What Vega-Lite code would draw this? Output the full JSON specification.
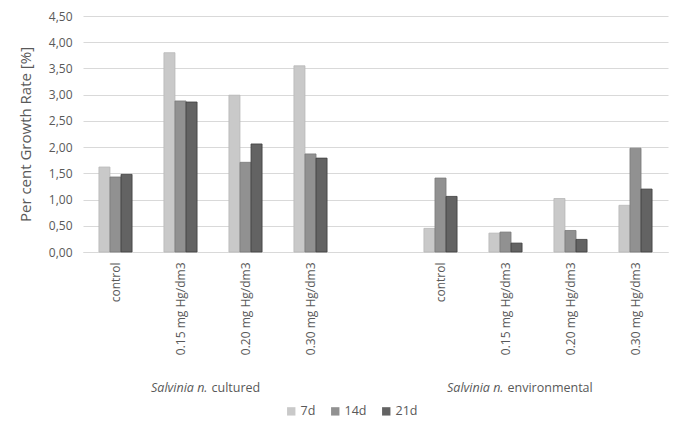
{
  "$schema": "https://vega.github.io/schema/vega-lite/v6.json",
  "width": 585,
  "height": 236,
  "autosize": {"type": "none"},
  "padding": {"left": 83, "top": 16, "right": 17, "bottom": 186},
  "background": "white",
  "config": {
    "font": "Open Sans",
    "view": {"stroke": null},
    "axisX": {
      "labelExpr": "split(datum.value, '|')[1]",
      "labelAngle": -90,
      "labelPadding": 10,
      "labelFontSize": 12,
      "labelColor": "#595959",
      "ticks": false,
      "domainColor": "#d9d9d9",
      "domainWidth": 1,
      "grid": false,
      "title": null
    },
    "axisY": {
      "titleFontSize": 15,
      "titleFontWeight": "normal",
      "titleColor": "#595959",
      "titlePadding": 15,
      "labelFontSize": 12,
      "labelColor": "#595959",
      "labelPadding": 11,
      "ticks": false,
      "domain": false,
      "gridColor": "#d9d9d9",
      "gridWidth": 1
    }
  },
  "datasets": {
    "bars": [
      {"slot": "c|control", "series": "7d", "value": 1.62},
      {"slot": "c|control", "series": "14d", "value": 1.43},
      {"slot": "c|control", "series": "21d", "value": 1.48},
      {"slot": "c|0.15 mg  Hg/dm3", "series": "7d", "value": 3.80},
      {"slot": "c|0.15 mg  Hg/dm3", "series": "14d", "value": 2.88},
      {"slot": "c|0.15 mg  Hg/dm3", "series": "21d", "value": 2.86},
      {"slot": "c|0.20 mg  Hg/dm3", "series": "7d", "value": 2.99},
      {"slot": "c|0.20 mg  Hg/dm3", "series": "14d", "value": 1.71},
      {"slot": "c|0.20 mg  Hg/dm3", "series": "21d", "value": 2.06},
      {"slot": "c|0.30 mg  Hg/dm3", "series": "7d", "value": 3.55},
      {"slot": "c|0.30 mg  Hg/dm3", "series": "14d", "value": 1.87},
      {"slot": "c|0.30 mg  Hg/dm3", "series": "21d", "value": 1.79},
      {"slot": "e|control", "series": "7d", "value": 0.45},
      {"slot": "e|control", "series": "14d", "value": 1.41},
      {"slot": "e|control", "series": "21d", "value": 1.06},
      {"slot": "e|0.15 mg  Hg/dm3", "series": "7d", "value": 0.36},
      {"slot": "e|0.15 mg  Hg/dm3", "series": "14d", "value": 0.38},
      {"slot": "e|0.15 mg  Hg/dm3", "series": "21d", "value": 0.17},
      {"slot": "e|0.20 mg  Hg/dm3", "series": "7d", "value": 1.02},
      {"slot": "e|0.20 mg  Hg/dm3", "series": "14d", "value": 0.41},
      {"slot": "e|0.20 mg  Hg/dm3", "series": "21d", "value": 0.24},
      {"slot": "e|0.30 mg  Hg/dm3", "series": "7d", "value": 0.89},
      {"slot": "e|0.30 mg  Hg/dm3", "series": "14d", "value": 1.98},
      {"slot": "e|0.30 mg  Hg/dm3", "series": "21d", "value": 1.20}
    ],
    "groups": [
      {"slot": "c|0.15 mg  Hg/dm3", "group": "cultured", "italic": "Salvinia n.", "rest": "cultured"},
      {"slot": "e|0.15 mg  Hg/dm3", "group": "environmental", "italic": "Salvinia n.", "rest": "environmental"}
    ]
  },
  "layer": [
    {
      "data": {"name": "bars"},
      "mark": {"type": "bar", "strokeWidth": 0.8},
      "encoding": {
        "x": {
          "field": "slot",
          "type": "nominal",
          "sort": null,
          "title": null,
          "scale": {
            "domain": ["c|control", "c|0.15 mg  Hg/dm3", "c|0.20 mg  Hg/dm3", "c|0.30 mg  Hg/dm3", "gap|", "e|control", "e|0.15 mg  Hg/dm3", "e|0.20 mg  Hg/dm3", "e|0.30 mg  Hg/dm3"],
            "paddingInner": 0.49,
            "paddingOuter": 0.245
          }
        },
        "xOffset": {"field": "series", "type": "nominal", "sort": ["7d", "14d", "21d"], "scale": {"domain": ["7d", "14d", "21d"], "paddingInner": 0, "paddingOuter": 0}},
        "y": {
          "field": "value",
          "type": "quantitative",
          "title": "Per cent Growth Rate [%]",
          "scale": {"domain": [0, 4.5], "nice": false},
          "axis": {
            "values": [0, 0.5, 1, 1.5, 2, 2.5, 3, 3.5, 4, 4.5],
            "labelExpr": "replace(format(datum.value, '.2f'), '.', ',')"
          }
        },
        "color": {
          "field": "series",
          "type": "nominal",
          "sort": ["7d", "14d", "21d"],
          "scale": {"domain": ["7d", "14d", "21d"], "range": ["#c9c9c9", "#919191", "#636363"]},
          "legend": {
            "title": null,
            "orient": "none",
            "legendX": 202,
            "legendY": 389,
            "direction": "horizontal",
            "symbolType": "square",
            "symbolSize": 70,
            "symbolStrokeWidth": 0,
            "labelFontSize": 12.5,
            "labelColor": "#595959",
            "columnPadding": 13,
            "labelOffset": 3
          }
        },
        "stroke": {
          "field": "series",
          "type": "nominal",
          "scale": {"domain": ["7d", "14d", "21d"], "range": ["#b8b8b8", "#7a7a7a", "#3f3f3f"]},
          "legend": null
        }
      }
    },
    {
      "data": {"name": "groups"},
      "transform": [{"filter": "datum.group == 'cultured'"}],
      "mark": {"type": "text", "fontStyle": "italic", "align": "right", "baseline": "middle", "fontSize": 12.5, "color": "#595959", "dx": 27},
      "encoding": {
        "x": {"field": "slot", "type": "nominal", "title": null},
        "y": {"datum": -2.6, "type": "quantitative", "title": "Per cent Growth Rate [%]", "axis": {"values": [0, 0.5, 1, 1.5, 2, 2.5, 3, 3.5, 4, 4.5], "labelExpr": "replace(format(datum.value, '.2f'), '.', ',')"}},
        "text": {"field": "italic"}
      }
    },
    {
      "data": {"name": "groups"},
      "transform": [{"filter": "datum.group == 'cultured'"}],
      "mark": {"type": "text", "align": "left", "baseline": "middle", "fontSize": 12.5, "color": "#595959", "dx": 31},
      "encoding": {
        "x": {"field": "slot", "type": "nominal", "title": null},
        "y": {"datum": -2.6, "type": "quantitative", "title": "Per cent Growth Rate [%]", "axis": {"values": [0, 0.5, 1, 1.5, 2, 2.5, 3, 3.5, 4, 4.5], "labelExpr": "replace(format(datum.value, '.2f'), '.', ',')"}},
        "text": {"field": "rest"}
      }
    },
    {
      "data": {"name": "groups"},
      "transform": [{"filter": "datum.group == 'environmental'"}],
      "mark": {"type": "text", "fontStyle": "italic", "align": "right", "baseline": "middle", "fontSize": 12.5, "color": "#595959", "dx": -2},
      "encoding": {
        "x": {"field": "slot", "type": "nominal", "title": null},
        "y": {"datum": -2.6, "type": "quantitative", "title": "Per cent Growth Rate [%]", "axis": {"values": [0, 0.5, 1, 1.5, 2, 2.5, 3, 3.5, 4, 4.5], "labelExpr": "replace(format(datum.value, '.2f'), '.', ',')"}},
        "text": {"field": "italic"}
      }
    },
    {
      "data": {"name": "groups"},
      "transform": [{"filter": "datum.group == 'environmental'"}],
      "mark": {"type": "text", "align": "left", "baseline": "middle", "fontSize": 12.5, "color": "#595959", "dx": 2},
      "encoding": {
        "x": {"field": "slot", "type": "nominal", "title": null},
        "y": {"datum": -2.6, "type": "quantitative", "title": "Per cent Growth Rate [%]", "axis": {"values": [0, 0.5, 1, 1.5, 2, 2.5, 3, 3.5, 4, 4.5], "labelExpr": "replace(format(datum.value, '.2f'), '.', ',')"}},
        "text": {"field": "rest"}
      }
    }
  ]
}
